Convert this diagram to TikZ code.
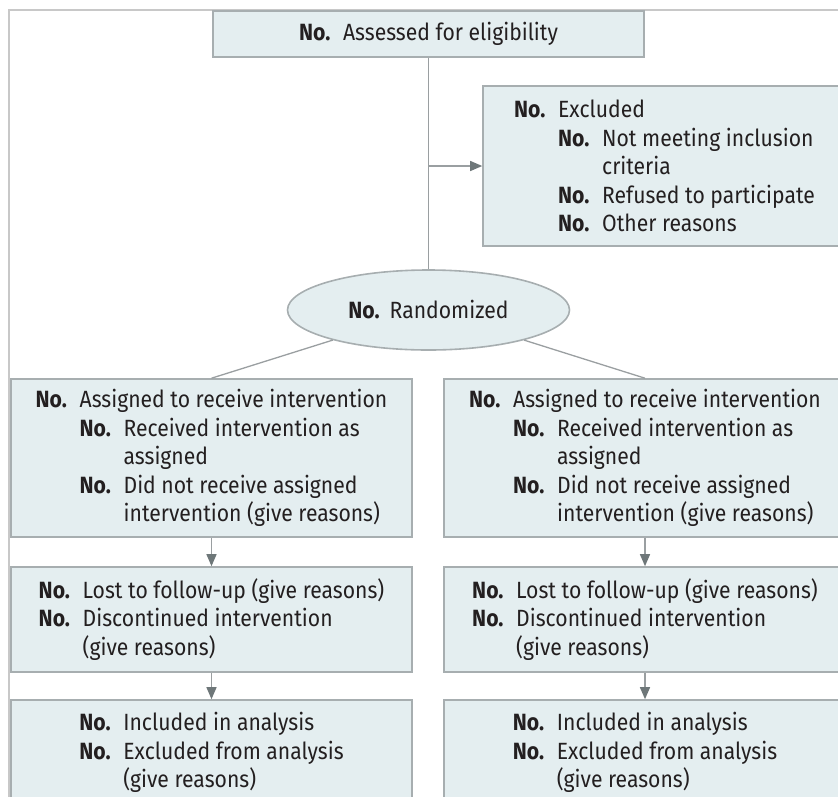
\documentclass[tikz,border=0pt]{standalone}
\usepackage{fontspec}
\setmainfont{Fira Sans}[FakeStretch=0.9]
\usetikzlibrary{shapes.geometric,arrows.meta}
\definecolor{boxfill}{HTML}{E4EEF0}
\definecolor{boxline}{HTML}{A7AEB0}
\definecolor{frameline}{HTML}{C8C8C8}
\definecolor{linkline}{HTML}{9A9FA1}
\definecolor{tipfill}{HTML}{6E7779}
\definecolor{ink}{HTML}{231F20}
\newcommand{\nolab}{\makebox[44pt][l]{\textbf{No.}}}
\newcommand{\subno}{\hspace*{44pt}\nolab}
\newcommand{\subtx}{\hspace*{88pt}}

\begin{document}
\begin{tikzpicture}[x=1pt, y=-1pt, font=\fontsize{23.5}{28.5}\selectfont, text=ink,
  box/.style={draw=boxline, line width=1.6pt, fill=boxfill, inner sep=0pt, align=left},
  link/.style={draw=linkline, line width=1.3pt},
  >={Triangle[width=10pt,length=12pt,color=tipfill]}]
\useasboundingbox (0,0) rectangle (838,796);
\clip (0,0) rectangle (838,796);
\draw[frameline, line width=2pt] (9,830) -- (9,10) -- (870,10);
\node[box, minimum width=431, minimum height=46] (assess) at (428.5,34) {\nolab Assessed for eligibility};
\node[box, minimum width=363, minimum height=160] (excl) at (664.5,166) {\nolab Excluded\\ \subno Not meeting inclusion\\ \subtx criteria\\ \subno Refused to participate\\ \subno Other reasons};
\node[box, ellipse, minimum width=282, minimum height=80] (rand) at (428.5,310) {\textbf{No.}\hspace{10pt}Randomized};
\node[box, minimum width=401, minimum height=158] (allocL) at (211.5,458) {\nolab Assigned to receive intervention\\ \subno Received intervention as\\ \subtx assigned\\ \subno Did not receive assigned\\ \subtx intervention (give reasons)};
\node[box, minimum width=402, minimum height=158] (allocR) at (645,458) {\nolab Assigned to receive intervention\\ \subno Received intervention as\\ \subtx assigned\\ \subno Did not receive assigned\\ \subtx intervention (give reasons)};
\node[box, minimum width=401, minimum height=105] (followL) at (211.5,619.5) {\nolab Lost to follow-up (give reasons)\\ \nolab Discontinued intervention\\ \hspace*{44pt}(give reasons)};
\node[box, minimum width=402, minimum height=105] (followR) at (645,619.5) {\nolab Lost to follow-up (give reasons)\\ \nolab Discontinued intervention\\ \hspace*{44pt}(give reasons)};
\node[box, minimum width=401, minimum height=105] (analysisL) at (211.5,752.5) {\nolab Included in analysis\\ \nolab Excluded from analysis\\ \hspace*{44pt}(give reasons)};
\node[box, minimum width=402, minimum height=105] (analysisR) at (645,752.5) {\nolab Included in analysis\\ \nolab Excluded from analysis\\ \hspace*{44pt}(give reasons)};
\draw[link] (assess) -- (rand);
\draw[link,->] (assess.south |- excl.west) -- (excl.west);
\draw[link] (rand) -- (allocL.north); \draw[link] (rand) -- (allocR.north);
\draw[link,->] (allocL) -- (followL); \draw[link,->] (allocR) -- (followR);
\draw[link,->] (followL) -- (analysisL); \draw[link,->] (followR) -- (analysisR);
\end{tikzpicture}
\end{document}
